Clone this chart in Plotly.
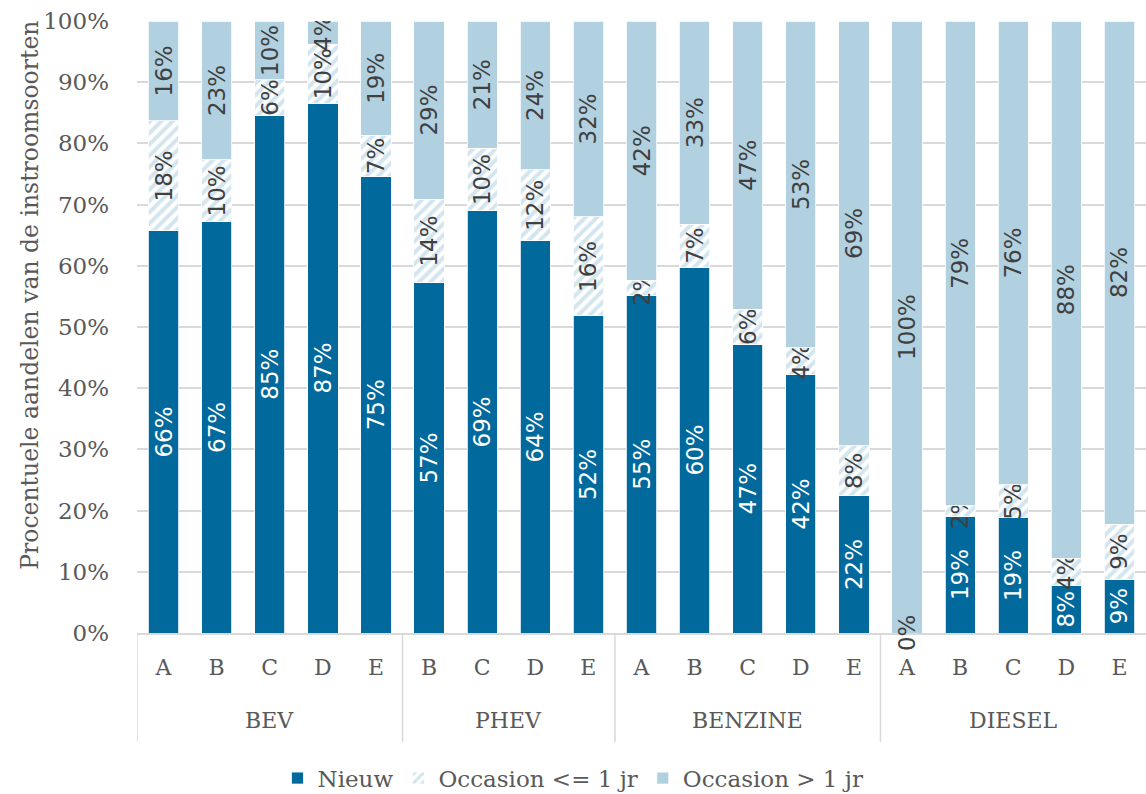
import plotly.graph_objects as go

# Brandstofsoort (groep) en klasse per staaf
groepen = ["BEV"] * 5 + ["PHEV"] * 4 + ["BENZINE"] * 5 + ["DIESEL"] * 5
klassen = ["A", "B", "C", "D", "E",
           "B", "C", "D", "E",
           "A", "B", "C", "D", "E",
           "A", "B", "C", "D", "E"]

# Aandelen in procenten per instroomsoort
nieuw = [65.7, 67.2, 84.6, 86.6, 74.6,
         57.2, 69.0, 64.1, 51.8,
         55.2, 59.8, 47.2, 42.2, 22.4,
         0.0, 19.1, 18.8, 7.8, 8.8]
occasion_jong = [18.0, 10.1, 5.8, 9.6, 6.7,
                 13.7, 10.2, 11.6, 16.2,
                 2.4, 7.0, 5.7, 4.4, 8.2,
                 0.0, 1.7, 5.4, 4.4, 9.0]
occasion_oud = [16.3, 22.7, 9.6, 3.8, 18.7,
                29.1, 20.8, 24.3, 32.0,
                42.4, 33.2, 47.1, 53.4, 69.4,
                100.0, 79.2, 75.8, 87.8, 82.2]

DONKERBLAUW = "#02699C"
LICHTBLAUW = "#B1D1E1"
ARCERING = "#A8CBDD"
TEKST = "#595959"
LABEL = "#404040"
RASTER = "#D9D9D9"
SERIF = "DejaVu Serif"
SANS = "DejaVu Sans"
LABELGROOTTE = 23

PLOT_TOP, PLOT_HOOGTE = 21, 612


def labels(waarden):
    return [f"{round(v)}%" if v > 0 else "" for v in waarden]


posities = list(range(len(klassen)))
fig = go.Figure()

reeksen = [
    ("Nieuw", nieuw, dict(color=DONKERBLAUW), "white"),
    ("Occasion <= 1 jr", occasion_jong,
     dict(color="white",
          pattern=dict(shape="/", fgcolor=ARCERING, bgcolor="white",
                       size=8, solidity=0.5, fillmode="overlay")), LABEL),
    ("Occasion > 1 jr", occasion_oud, dict(color=LICHTBLAUW), LABEL),
]
for naam, waarden, marker, tekstkleur in reeksen:
    marker["line"] = dict(color="white", width=0.8)
    fig.add_trace(go.Bar(
        name=naam, x=posities, y=waarden, width=0.57, marker=marker,
        text=labels(waarden), textposition="inside", insidetextanchor="middle",
        textangle=-90,
        textfont=dict(family=SANS, size=LABELGROOTTE, color=tekstkleur),
        hoverinfo="skip",
    ))

# Nul-waarden krijgen hun label op de as
for p, v in zip(posities, nieuw):
    if v == 0:
        fig.add_annotation(
            x=p, y=v, xref="x", yref="y", text=f"{round(v)}%",
            textangle=-90, showarrow=False, yanchor="middle",
            font=dict(family=SANS, size=LABELGROOTTE, color=LABEL),
        )

# Groepslabels en scheidingslijnen onder de as
grenzen = [i for i in range(1, len(groepen)) if groepen[i] != groepen[i - 1]]
starts = [0] + grenzen
eindes = grenzen + [len(groepen)]
onderkant = -(742 - (PLOT_TOP + PLOT_HOOGTE)) / PLOT_HOOGTE
for s, e in zip(starts, eindes):
    fig.add_annotation(
        x=(s + e - 1) / 2, y=0, xref="x", yref="paper", yanchor="middle",
        yshift=-87, text=groepen[s], showarrow=False,
        font=dict(family=SERIF, size=22, color=TEKST),
    )
    fig.add_shape(
        type="line", xref="x", yref="paper", x0=s - 0.5, x1=s - 0.5,
        y0=0, y1=onderkant, line=dict(color=RASTER, width=1.5),
    )

# Titel van de y-as
fig.add_annotation(
    text="Procentuele aandelen van de instroomsoorten",
    xref="paper", yref="paper", x=0, xshift=-107, y=0.551,
    xanchor="center", yanchor="middle", textangle=-90, showarrow=False,
    font=dict(family=SERIF, size=23.5, color=TEKST),
)

fig.update_layout(
    width=1146, height=794,
    barmode="stack",
    plot_bgcolor="white", paper_bgcolor="white",
    margin=dict(l=137, r=0, t=PLOT_TOP, b=794 - PLOT_TOP - PLOT_HOOGTE),
    uniformtext=dict(minsize=LABELGROOTTE, mode="show"),
    font=dict(family=SERIF, color=TEKST, size=22),
    legend=dict(
        orientation="h", xref="container", yref="container",
        x=0.5, xanchor="center", y=0.02, yanchor="middle",
        font=dict(family=SERIF, size=23, color=TEKST),
        itemwidth=30, traceorder="normal",
    ),
    showlegend=True,
)

fig.update_yaxes(
    range=[0, 100], dtick=10, ticksuffix="%",
    showgrid=True, gridcolor=RASTER, gridwidth=1.5,
    zeroline=False, showline=False, ticklabelstandoff=27,
    tickfont=dict(family=SERIF, size=23, color=TEKST),
)
fig.update_xaxes(
    range=[-0.5, len(klassen) - 0.5],
    tickvals=posities, ticktext=klassen,
    showline=True, linecolor=RASTER, linewidth=1.5,
    showgrid=False, zeroline=False, ticks="", ticklabelstandoff=14,
    tickfont=dict(family=SERIF, size=22, color=TEKST),
)

fig.write_html("out.html")
